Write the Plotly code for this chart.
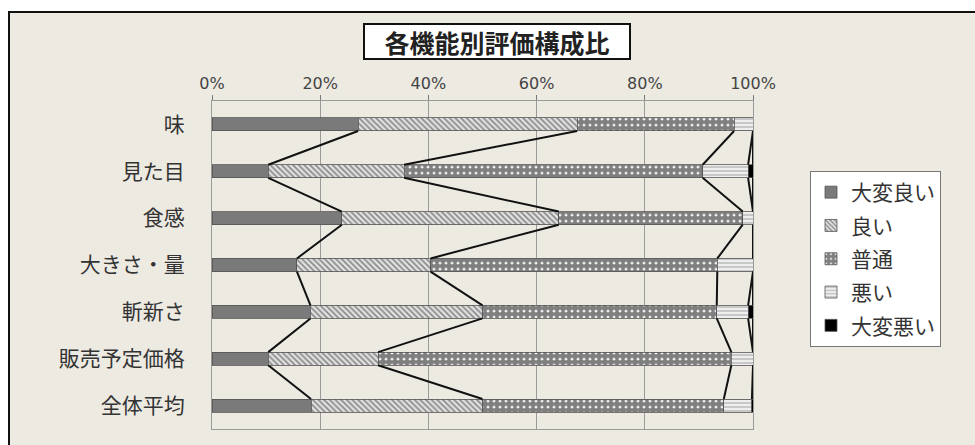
import numpy as np
import plotly.graph_objects as go

# Evaluation share (%) per item, stacked from best to worst
categories = ["味", "見た目", "食感", "大きさ・量", "斬新さ", "販売予定価格", "全体平均"]
series_names = ["大変良い", "良い", "普通", "悪い", "大変悪い"]
very_good = [27.0, 10.4, 24.0, 15.7, 18.2, 10.4, 18.3]
good = [40.5, 25.1, 40.1, 24.7, 31.8, 20.3, 31.7]
neutral = [29.0, 55.2, 34.0, 53.0, 43.3, 65.3, 44.6]
bad = [3.5, 8.4, 1.9, 6.6, 5.8, 4.0, 5.2]
very_bad = [0.0, 0.9, 0.0, 0.0, 0.9, 0.0, 0.2]
x_ticks = [0, 20, 40, 60, 80, 100]

series_values = [very_good, good, neutral, bad, very_bad]

styles = [
    dict(color="#7a7a7a", pattern=None),
    dict(color="#d8d8d8", pattern=dict(shape="\\", fgcolor="#333333", bgcolor="#e2e2e2", size=4, solidity=0.45)),
    dict(color="#ffffff", pattern=dict(shape=".", fgcolor="#000000", bgcolor="#ffffff", size=6, solidity=0.8)),
    dict(color="#e6e6e6", pattern=dict(shape="-", fgcolor="#9a9a9a", bgcolor="#eeeeee", size=4, solidity=0.45)),
    dict(color="#000000", pattern=None),
]

bar_width = 0.28
ypos = np.arange(len(categories))

fig = go.Figure()
for name, vals, st in zip(series_names, series_values, styles):
    marker = dict(color=st["color"], line=dict(color="#555555", width=0.8))
    if st["pattern"] is not None:
        marker["pattern"] = st["pattern"]
    fig.add_trace(go.Bar(
        y=ypos, x=vals, name=name, orientation="h", width=bar_width,
        marker=marker, legendgroup=name,
    ))

# Series lines joining each segment boundary between neighbouring bars
cum = np.cumsum(np.array(series_values), axis=0)
hw = bar_width / 2
for k in range(cum.shape[0]):
    xs, ys = [], []
    for i in range(len(categories) - 1):
        xs += [cum[k][i], cum[k][i + 1], None]
        ys += [i + hw, i + 1 - hw, None]
    fig.add_trace(go.Scatter(
        x=xs, y=ys, mode="lines", line=dict(color="#111111", width=2),
        showlegend=False, hoverinfo="skip",
    ))

# Plot area in pixels: x 212..753, y 101..429
L, R, T, B = 212, 222, 101, 16
W, H = 975, 445
pw, ph = W - L - R, H - T - B

def px(x):
    return (x - L) / pw

def py(y):
    return (H - B - y) / ph

fig.update_layout(
    width=W, height=H,
    margin=dict(l=L, r=R, t=T, b=B),
    barmode="stack",
    paper_bgcolor="#ffffff",
    plot_bgcolor="#ffffff",
    font=dict(family="Noto Sans CJK JP", color="#333333"),
    showlegend=True,
    legend=dict(
        x=px(810), y=py(171), xanchor="left", yanchor="top",
        bgcolor="#ffffff", bordercolor="#777777", borderwidth=1,
        font=dict(size=21, family="Noto Sans CJK JP", color="#333333"),
        traceorder="grouped", tracegroupgap=3, itemwidth=30,
        entrywidth=125, entrywidthmode="pixels",
    ),
    shapes=[
        dict(type="rect", xref="paper", yref="paper",
             x0=px(9), x1=px(990), y0=py(460), y1=py(12),
             fillcolor="#edeae2", line=dict(color="#111111", width=2), layer="below"),
    ],
    annotations=[
        dict(text="<b>各機能別評価構成比</b>", xref="paper", yref="paper",
             x=px(497), y=py(41.5), xanchor="center", yanchor="middle",
             showarrow=False, bgcolor="#ffffff", bordercolor="#111111", borderwidth=2,
             width=262, height=31,
             font=dict(size=25, family="Noto Sans CJK JP", color="#222222")),
    ],
)

fig.update_xaxes(
    side="top", range=[0, 100], tickvals=x_ticks,
    ticktext=[f"{v}%" for v in x_ticks],
    tickfont=dict(size=16, family="DejaVu Sans", color="#444444"),
    showgrid=True, gridcolor="#9a9a9a", gridwidth=1,
    ticks="outside", ticklen=5, tickcolor="#777777",
    showline=True, linecolor="#9a9a9a", linewidth=1, mirror=True,
    zeroline=False, fixedrange=True,
)
fig.update_yaxes(
    range=[len(categories) - 0.5, -0.5], tickvals=ypos, ticktext=categories,
    tickfont=dict(size=21, family="Noto Sans CJK JP", color="#333333"),
    ticklabelstandoff=22,
    showgrid=False, showline=True, linecolor="#9a9a9a", linewidth=1, mirror=True,
    ticks="", zeroline=False, fixedrange=True,
)

fig.write_html("out.html")
